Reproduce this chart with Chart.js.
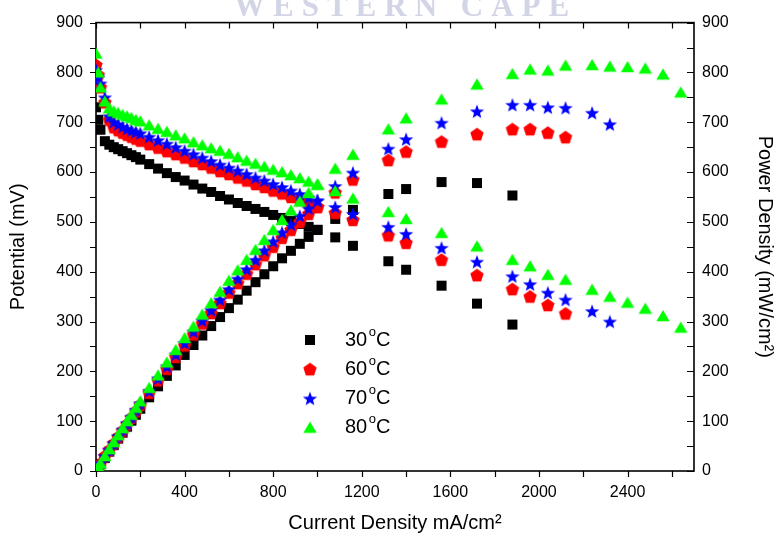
<!DOCTYPE html>
<html>
<head>
<meta charset="utf-8">
<script src="https://cdn.jsdelivr.net/npm/chart.js@4.4.1/dist/chart.umd.min.js"></script>
<style>
html,body{margin:0;padding:0;background:#fff;}
canvas{display:block;}
</style>
</head>
<body>
<canvas id="c" width="781" height="542"></canvas>
<script>
// ---------- data ----------
const currentDensity = [0,10,20,40,60,80,100,120,140,160,180,200,
  240,280,320,360,400,440,480,520,560,600,640,680,720,760,800,840,880,920,960,1000,
  1080,1160,1320,1400,1560,1720,1880,1960,2040,2120,2240,2320,2400,2480,2560,2640];

const temperatures = ['30','60','70','80'];

const potential30 = [730,705,685,662,655,650,646,642,638,634,630,625,
  616,607,598,590,583,575,567,560,552,545,538,532,526,520,514,508,502,496,490,484,
  469,452,421,404,372,336,294];
const power30 = [0,7,14,26,39,52,65,77,89,101,113,125,
  148,170,191,212,233,253,272,291,309,327,344,362,379,395,411,427,442,456,470,484,
  506,524,556,566,580,578,553];

const potential60 = [815,795,770,740,705,690,684,679,675,671,667,663,
  656,649,642,636,629,622,616,609,602,596,589,583,576,570,563,557,550,544,537,530,
  518,504,473,458,424,393,365,350,333,316];
const power60 = [0,8,15,30,42,55,68,81,94,107,120,133,
  157,182,205,229,252,274,296,317,337,358,377,396,415,433,450,468,484,500,516,530,
  559,585,624,641,661,676,686,686,679,670];

const potential70 = [805,790,778,750,712,701,696,691,687,684,681,678,
  671,664,657,650,643,636,629,622,615,609,603,596,589,583,576,570,563,556,549,543,
  530,516,490,476,448,420,391,375,358,344,321,300];
const power70 = [0,8,16,30,43,56,70,83,96,109,123,136,
  161,186,210,234,257,280,302,323,344,365,386,405,424,443,461,479,495,512,527,543,
  572,599,647,666,699,722,735,735,730,729,719,696];

const potential80 = [838,800,770,742,728,722,719,715,712,709,705,702,
  694,687,681,674,668,660,654,648,643,637,630,623,617,611,605,600,594,588,581,575,
  562,547,520,506,478,451,424,411,394,384,364,350,338,326,311,288];
const power80 = [0,8,15,30,44,58,72,86,100,113,127,140,
  167,192,218,243,267,290,314,337,360,382,403,424,444,464,484,504,523,541,558,575,
  607,635,686,708,746,776,797,806,804,814,815,812,811,808,796,760];

const xTickLabels = [0,400,800,1200,1600,2000,2400];
const yTickLabels = [0,100,200,300,400,500,600,700,800,900];

// ---------- styling ----------
const FONT = '"Liberation Sans", Arial, Helvetica, sans-serif';
const colors = ['#000000','#ff0000','#0000ff','#00ff00'];
const shapes = ['square','pentagon','star','triangle'];

function makeMarker(kind, color){
  const s = 16;
  const c = document.createElement('canvas');
  c.width = s; c.height = s;
  const g = c.getContext('2d');
  g.fillStyle = color;
  g.translate(s/2, s/2);
  g.beginPath();
  if (kind === 'square') {
    g.rect(-5,-5,10,10);
  } else if (kind === 'pentagon') {
    const r = 7;
    for (let k=0;k<5;k++){ const a=-Math.PI/2+k*2*Math.PI/5; g.lineTo(r*Math.cos(a), r*Math.sin(a)+0.5); }
  } else if (kind === 'star') {
    const R = 7.5, ri = 3.1;
    for (let k=0;k<10;k++){ const a=-Math.PI/2+k*Math.PI/5; const rr=(k%2)?ri:R; g.lineTo(rr*Math.cos(a), rr*Math.sin(a)+0.8); }
  } else {
    g.moveTo(0,-6); g.lineTo(6.7,5.2); g.lineTo(-6.7,5.2);
  }
  g.closePath();
  g.fill();
  return c;
}
const markers = shapes.map((k,i)=>makeMarker(k, colors[i]));

function pts(vals){ return vals.map((v,i)=>({x: currentDensity[i], y: v})); }

const potentials = [potential30, potential60, potential70, potential80];
const powers = [power30, power60, power70, power80];

const datasets = [];
temperatures.forEach((t,i)=>{
  const common = {
    showLine:false, pointStyle: markers[i], pointRadius:6, pointHoverRadius:6,
    backgroundColor: colors[i], borderColor: colors[i], order: 4-i
  };
  datasets.push(Object.assign({label: t+'°C potential', data: pts(potentials[i]), yAxisID:'y'}, common));
  datasets.push(Object.assign({label: t+'°C power', data: pts(powers[i]), yAxisID:'y1'}, common));
});

const watermarkPlugin = {
  id:'watermark',
  beforeDraw(chart){
    const ctx = chart.ctx;
    ctx.save();
    ctx.fillStyle = '#d2d5e5';
    ctx.font = 'bold 31px "Liberation Serif", "Times New Roman", serif';
    ctx.letterSpacing = '8px';
    ctx.textBaseline = 'alphabetic';
    ctx.textAlign = 'left';
    ctx.fillText('WESTERN CAPE', 234, 16);
    ctx.restore();
  }
};

const framePlugin = {
  id:'frame',
  beforeDatasetsDraw(chart){
    const ctx = chart.ctx, a = chart.chartArea;
    const xs = chart.scales.x, ys = chart.scales.y, y1 = chart.scales.y1;
    ctx.save();
    ctx.strokeStyle = '#000';
    ctx.lineWidth = 1.6;
    ctx.strokeRect(a.left, a.top, a.right-a.left, a.bottom-a.top);
    ctx.lineWidth = 1.2;
    ctx.beginPath();
    for (let v = xs.min; v <= xs.max; v += 200) {
      const p = Math.round(xs.getPixelForValue(v)) + 0.5;
      ctx.moveTo(p, a.bottom); ctx.lineTo(p, a.bottom + 6);
      ctx.moveTo(p, a.top); ctx.lineTo(p, a.top + 6);
    }
    for (let v = ys.min; v <= ys.max; v += 50) {
      const p = Math.round(ys.getPixelForValue(v)) + 0.5;
      ctx.moveTo(a.left - 6, p); ctx.lineTo(a.left, p);
    }
    for (let v = y1.min; v <= y1.max; v += 50) {
      const p = Math.round(y1.getPixelForValue(v)) + 0.5;
      ctx.moveTo(a.right - 7, p); ctx.lineTo(a.right, p);
    }
    ctx.stroke();
    ctx.restore();
  }
};

const legendPlugin = {
  id:'customLegend',
  afterDraw(chart){
    const ctx = chart.ctx;
    ctx.save();
    ctx.fillStyle = '#000';
    ctx.textBaseline = 'middle';
    ctx.textAlign = 'left';
    temperatures.forEach((t,i)=>{
      const y = 340 + i*29.2;
      const m = markers[i];
      ctx.drawImage(m, 310 - m.width/2, y - m.height/2);
      let x = 345;
      ctx.font = '20px ' + FONT;
      ctx.fillText(t, x, y);
      x += ctx.measureText(t).width + 1.5;
      ctx.font = '13px ' + FONT;
      ctx.fillText('o', x, y - 8);
      x += ctx.measureText('o').width;
      ctx.font = '20px ' + FONT;
      ctx.fillText('C', x, y);
    });
    ctx.restore();
  }
};

const plainLabel = v => String(v);

function yAxis(pos, width, pad, title, tpad){
  return {
    type:'linear', position: pos, min:0, max:900,
    afterBuildTicks: s => { s.ticks = yTickLabels.map(v=>({value:v})); },
    afterFit: s => { s.width = width; },
    grid:{display:false, drawTicks:false}, border:{display:false},
    ticks:{font:{family:FONT, size:16}, color:'#000', padding:pad, autoSkip:false, callback: plainLabel},
    title:{display:true, text:title, color:'#000', font:{family:FONT, size:20}, padding:{top:tpad, bottom:0}}
  };
}

new Chart(document.getElementById('c'), {
  type:'scatter',
  data:{datasets},
  options:{
    responsive:false, animation:false, devicePixelRatio:1,
    layout:{padding:{top:21, left:0, right:0, bottom:0}},
    plugins:{legend:{display:false}, tooltip:{enabled:false}},
    scales:{
      x:{
        type:'linear', position:'bottom', min:0, max:2700,
        afterBuildTicks: s => { s.ticks = xTickLabels.map(v=>({value:v})); },
        afterFit: s => { s.height = 71; },
        grid:{display:false, drawTicks:false}, border:{display:false},
        ticks:{font:{family:FONT, size:16}, color:'#000', padding:12, maxRotation:0, autoSkip:false, callback: plainLabel},
        title:{display:true, text:'Current Density mA/cm²', color:'#000', font:{family:FONT, size:20}, padding:{top:0, bottom:7}}
      },
      y: yAxis('left', 96, 13, 'Potential (mV)', 6),
      y1: yAxis('right', 87, 8, 'Power Density (mW/cm²)', 4)
    }
  },
  plugins:[watermarkPlugin, framePlugin, legendPlugin]
});
</script>
</body>
</html>
